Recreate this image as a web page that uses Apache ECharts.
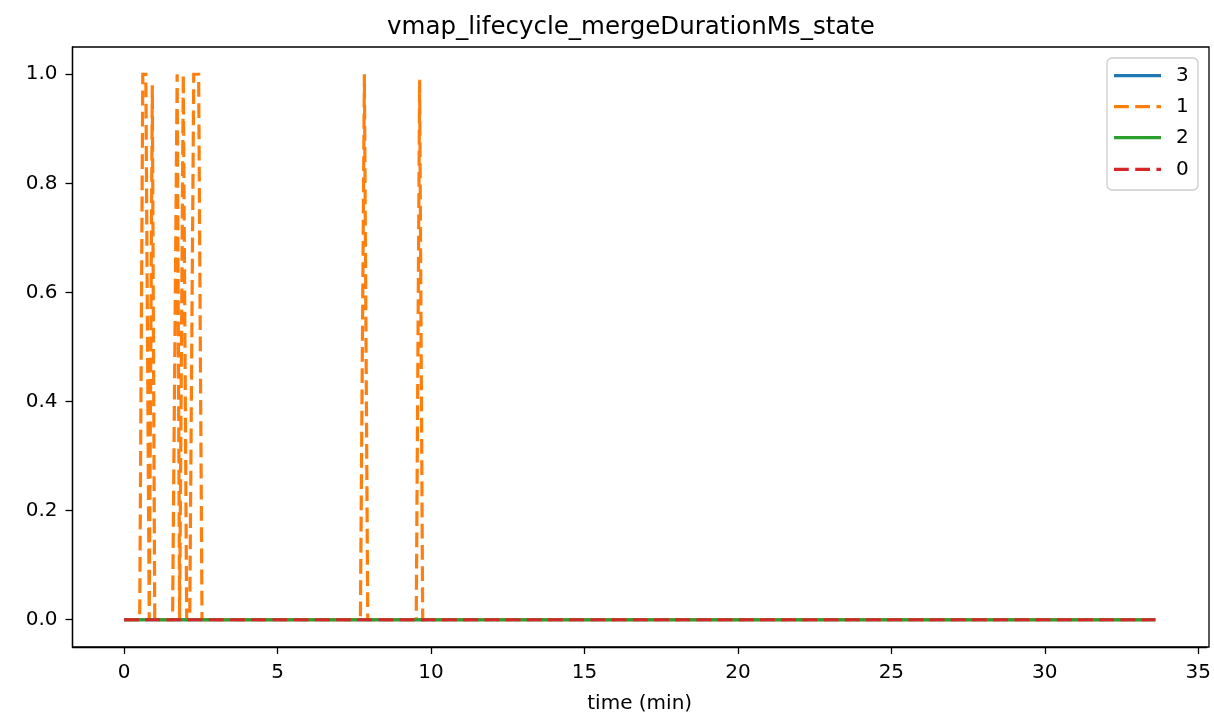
<!DOCTYPE html>
<html>
<head>
<meta charset="utf-8">
<script src="https://cdn.jsdelivr.net/npm/echarts@6/dist/echarts.min.js"></script>
<style>
html,body{margin:0;padding:0;background:#fff;}
#chart{width:1214px;height:719px;}
</style>
</head>
<body>
<div id="chart"></div>
<script>
// ---- data ----
const seriesNames = ['3', '1', '2', '0'];
const seriesColors = ['#1f77b4', '#ff7f0e', '#2ca02c', '#d62728'];
const seriesDashed = [false, true, false, true];

// time (min) / value pairs
const state3 = [[0, 0], [33.6, 0]];
const state1 = [
  [0, 0],
  [0.51, 0], [0.61, 1], [0.71, 1], [0.82, 0], [0.92, 0.98], [1.0, 0],
  [1.58, 0], [1.73, 1], [1.81, 0], [1.93, 1], [2.04, 0],
  [2.14, 0], [2.27, 1], [2.43, 1], [2.54, 0],
  [7.70, 0], [7.83, 1], [7.94, 0],
  [9.52, 0], [9.63, 0.99], [9.73, 0],
  [33.6, 0]
];
const state2 = [[0, 0], [33.6, 0]];
const state0 = [[0, 0], [33.6, 0]];
const seriesData = [state3, state1, state2, state0];

const xTicks = [0, 5, 10, 15, 20, 25, 30, 35];
const yTicks = [0, 0.2, 0.4, 0.6, 0.8, 1.0];

const titleText = 'vmap_lifecycle_mergeDurationMs_state';
const xAxisName = 'time (min)';

// ---- chart ----
const FONT = 'DejaVu Sans';
const DASH = [14.8, 6.4];
const LW = 3.2;
const chart = echarts.init(document.getElementById('chart'), null, {renderer: 'canvas'});

const series = seriesNames.map((name, i) => ({
  name: name,
  type: 'line',
  data: seriesData[i],
  symbol: 'none',
  showSymbol: false,
  animation: false,
  lineStyle: {
    color: seriesColors[i],
    width: LW,
    type: seriesDashed[i] ? DASH : 'solid',
    cap: 'butt',
    join: 'miter'
  },
  itemStyle: {color: seriesColors[i]},
  z: 2 + i
}));

// legend drawn as graphic (box, handles, labels)
const LG = {x: 1107, y: 58, w: 91, h: 132, rowY: [75.7, 106.7, 137.7, 169.3], hx1: 1114, hx2: 1161, tx: 1176};
const legendGraphics = [{
  type: 'rect',
  shape: {x: LG.x, y: LG.y, width: LG.w, height: LG.h, r: 5},
  style: {fill: '#ffffff', stroke: '#cccccc', lineWidth: 1.3},
  silent: true, z: 20
}];
seriesNames.forEach((name, i) => {
  legendGraphics.push({
    type: 'line',
    shape: {x1: LG.hx1, y1: LG.rowY[i], x2: LG.hx2, y2: LG.rowY[i]},
    style: {stroke: seriesColors[i], lineWidth: LW, lineDash: seriesDashed[i] ? DASH : null, lineCap: 'butt'},
    silent: true, z: 21
  });
  legendGraphics.push({
    type: 'text',
    x: LG.tx, y: LG.rowY[i],
    style: {text: name, font: '20px "DejaVu Sans"', fill: '#000', textAlign: 'left', textVerticalAlign: 'middle'},
    silent: true, z: 21
  });
});

chart.setOption({
  animation: false,
  backgroundColor: '#ffffff',
  title: {
    text: titleText,
    left: 626,
    textAlign: 'center',
    top: 10,
    textStyle: {fontFamily: FONT, fontSize: 24.5, fontWeight: 'normal', color: '#000'}
  },
  grid: {left: 72.5, right: 5, top: 47, bottom: 72, containLabel: false},
  xAxis: {
    type: 'value',
    min: -1.68,
    max: 35.28,
    name: xAxisName,
    nameLocation: 'middle',
    nameGap: 47,
    nameTextStyle: {fontFamily: FONT, fontSize: 20, color: '#000'},
    splitLine: {show: false},
    axisLine: {show: true, onZero: false, lineStyle: {color: '#000', width: 1.3}},
    axisTick: {show: true, length: 7, lineStyle: {color: '#000', width: 1.3}, customValues: xTicks},
    axisLabel: {fontFamily: FONT, fontSize: 20, color: '#000', margin: 16, customValues: xTicks,
      formatter: v => String(Math.round(v))}
  },
  yAxis: {
    type: 'value',
    min: -0.05,
    max: 1.05,
    splitLine: {show: false},
    axisLine: {show: true, onZero: false, lineStyle: {color: '#000', width: 1.3}},
    axisTick: {show: true, length: 7, lineStyle: {color: '#000', width: 1.3}, customValues: yTicks},
    axisLabel: {fontFamily: FONT, fontSize: 20, color: '#000', margin: 15, customValues: yTicks,
      formatter: v => Number(v).toFixed(1)}
  },
  graphic: [{
    type: 'rect',
    shape: {x: 72.5, y: 47, width: 1214 - 5 - 72.5, height: 719 - 72 - 47},
    style: {fill: 'none', stroke: '#000', lineWidth: 1.3},
    silent: true,
    z: 10
  }].concat(legendGraphics),
  series: series
});
</script>
</body>
</html>
